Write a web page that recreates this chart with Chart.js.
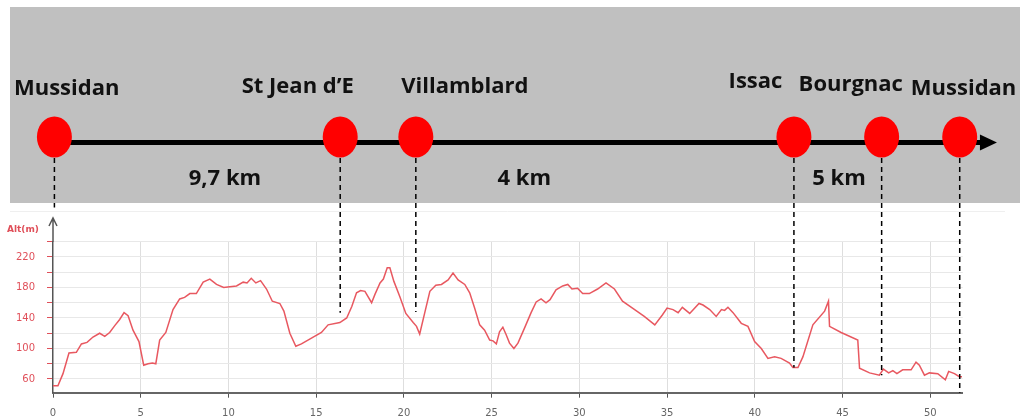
<!DOCTYPE html>
<html>
<head>
  <title>Profil Mussidan</title>
  <script src="https://cdn.jsdelivr.net/npm/chart.js"></script>
  <style>
    body { margin: 0; background: #fff; }
  </style>
</head>
<body>
  <canvas id="profil" width="1020" height="419"></canvas>

  <script>
    // distance (km) and altitude (m) along the route
    var km = [0, 0.28, 0.57, 0.91, 1.33, 1.62, 1.94, 2.28, 2.66, 2.95,
      3.23, 3.52, 3.8, 4.05, 4.28, 4.56, 4.9, 5.17, 5.42, 5.67,
      5.86, 6.08, 6.43, 6.84, 7.22, 7.5, 7.8, 8.17, 8.56, 8.94,
      9.32, 9.73, 10.08, 10.46, 10.84, 11.06, 11.3, 11.56, 11.83, 12.17,
      12.5, 12.93, 13.16, 13.5, 13.84, 14.16, 14.83, 15.3, 15.68, 16.35,
      16.74, 17.03, 17.3, 17.53, 17.78, 18.16, 18.35, 18.64, 18.83, 19.05,
      19.2, 19.43, 19.77, 20.11, 20.53, 20.72, 20.9, 21.19, 21.48, 21.82,
      22.14, 22.52, 22.8, 23.09, 23.47, 23.75, 24.03, 24.32, 24.6, 24.89,
      25.08, 25.27, 25.45, 25.64, 25.83, 26.02, 26.27, 26.5, 26.88, 27.25,
      27.54, 27.82, 28.1, 28.33, 28.67, 29.05, 29.34, 29.58, 29.9, 30.19,
      30.57, 31.04, 31.52, 32.0, 32.46, 33.03, 33.7, 34.3, 34.73, 35.0,
      35.34, 35.63, 35.87, 36.29, 36.82, 37.05, 37.43, 37.8, 38.1, 38.28,
      38.47, 38.76, 39.23, 39.61, 39.99, 40.37, 40.75, 41.13, 41.5, 41.98,
      42.17, 42.46, 42.74, 43.31, 43.98, 44.2, 44.26, 44.92, 45.87, 45.97,
      46.54, 47.1, 47.33, 47.63, 47.87, 48.1, 48.43, 48.91, 49.19, 49.38,
      49.67, 49.95, 50.43, 50.86, 51.05, 51.38, 51.66, 51.81];
    var alt = [51, 51, 67, 94, 95, 106, 108, 115, 120, 116,
      121, 130, 138, 147, 143, 124, 109, 78, 80, 81,
      80, 111, 121, 151, 165, 167, 172, 172, 187, 191,
      184, 180, 181, 182, 187, 186, 192, 186, 189, 178,
      162, 159, 149, 120, 103, 106, 115, 121, 131, 134,
      140, 155, 173, 176, 175, 160, 171, 186, 191, 206,
      206, 188, 168, 146, 134, 129, 119, 147, 175, 183,
      184, 190, 199, 190, 184, 173, 153, 131, 124, 111,
      110, 106, 122, 128, 118, 107, 100, 107, 127, 147,
      161, 165, 160, 164, 177, 182, 184, 178, 179, 172,
      172, 178, 186, 178, 162, 153, 142, 131, 144, 153,
      151, 147, 154, 146, 159, 157, 151, 142, 151, 150,
      154, 147, 133, 129, 109, 100, 87, 89, 87, 81,
      75, 75, 89, 131, 149, 162, 129, 121, 111, 74,
      68, 65, 73, 68, 71, 67, 72, 72, 82, 78,
      65, 68, 67, 59, 70, 67, 63, 63];

    var xTicks = [0, 5, 10, 15, 20, 25, 30, 35, 40, 45, 50];
    var yTicks = [60, 80, 100, 120, 140, 160, 180, 200, 220, 240];

    // villes sur le trajet (km) et où s'arrête la ligne pointillée (m)
    var villes = ['Mussidan', 'St Jean d\u2019E', 'Villamblard', 'Issac', 'Bourgnac', 'Mussidan'];
    var villesKm = [0.08, 16.37, 20.68, 42.23, 47.23, 51.68];
    var villesStop = [285, 147, 148, 75, 65, 42];
    // où poser le nom (km, centre du texte)
    var nomsKm = [0.78, 13.95, 23.47, 40.04, 45.47, 51.9];
    var nomsY = [95, 93, 93, 88, 91, 95];

    var etapes = ['9,7 km', '4 km', '5 km'];
    var etapesKm = [9.8, 26.86, 44.8];

    var ROUGE = '#e0505a';

    var bandeau = {
      id: 'bandeau',
      afterDraw: function(chart) {
        var c = chart.ctx, xs = chart.scales.x, ys = chart.scales.y;
        var area = chart.chartArea;
        c.save();

        // fond gris
        c.fillStyle = '#c0c0c0';
        c.fillRect(10, 7, 1010, 196);
        c.strokeStyle = '#efefef';
        c.lineWidth = 1;
        c.beginPath();
        c.moveTo(10, 211.5);
        c.lineTo(1005, 211.5);
        c.stroke();

        // flèche noire
        var yl = 142.5;
        var x0 = xs.getPixelForValue(villesKm[0]);
        var xTip = xs.getPixelForValue(53.8);
        c.strokeStyle = '#000';
        c.lineWidth = 5;
        c.beginPath();
        c.moveTo(x0, yl);
        c.lineTo(xTip - 14, yl);
        c.stroke();
        c.fillStyle = '#000';
        c.beginPath();
        c.moveTo(xTip, yl);
        c.lineTo(xTip - 17, yl - 8);
        c.lineTo(xTip - 17, yl + 8);
        c.closePath();
        c.fill();

        // pointillés vers le profil
        c.setLineDash([5, 4]);
        c.lineWidth = 1.5;
        villesKm.forEach(function(k, i) {
          var px = xs.getPixelForValue(k);
          c.beginPath();
          c.moveTo(px, 158);
          c.lineTo(px, ys.getPixelForValue(villesStop[i]));
          c.stroke();
        });
        c.setLineDash([]);

        // ronds rouges
        c.fillStyle = '#ff0000';
        villesKm.forEach(function(k) {
          c.beginPath();
          c.ellipse(xs.getPixelForValue(k), 137, 17.5, 20.5, 0, 0, Math.PI * 2);
          c.fill();
        });

        // textes
        c.fillStyle = '#111';
        c.font = 'bold 22px "Open Sans"';
        c.textAlign = 'center';
        c.textBaseline = 'alphabetic';
        villes.forEach(function(v, i) {
          c.fillText(v, xs.getPixelForValue(nomsKm[i]), nomsY[i]);
        });
        etapes.forEach(function(e, i) {
          c.fillText(e, xs.getPixelForValue(etapesKm[i]), 185);
        });

        // flèche de l'axe vertical
        c.strokeStyle = '#555';
        c.lineWidth = 1.5;
        c.beginPath();
        c.moveTo(area.left, area.top);
        c.lineTo(area.left, 218);
        c.moveTo(area.left - 4, 226);
        c.lineTo(area.left, 218);
        c.lineTo(area.left + 4, 226);
        c.stroke();

        c.fillStyle = ROUGE;
        c.font = 'bold 9px "DejaVu Sans"';
        c.textAlign = 'left';
        c.fillText('Alt(m)', 7, 232);

        c.restore();
      }
    };

    var points = km.map(function(k, i) { return { x: k, y: alt[i] }; });

    Chart.defaults.font.family = '"DejaVu Sans"';
    Chart.defaults.font.size = 10;

    new Chart(document.getElementById('profil').getContext('2d'), {
      type: 'line',
      data: {
        datasets: [{
          label: 'Altitude',
          data: points,
          borderColor: 'rgb(232,88,96)',
          borderWidth: 1.5,
          pointRadius: 0,
          tension: 0,
          fill: false
        }]
      },
      options: {
        responsive: false,
        animation: false,
        layout: { padding: { top: 241.75, right: 57.3, left: 0, bottom: 0 } },
        plugins: { legend: { display: false }, tooltip: { enabled: false } },
        scales: {
          x: {
            type: 'linear',
            min: 0,
            max: 51.85,
            afterBuildTicks: function(s) { s.ticks = xTicks.map(function(v) { return { value: v }; }); },
            afterFit: function(s) { s.height = 26.3; },
            border: { color: '#666', width: 2 },
            grid: {
              color: function(ctx) { return ctx.tick && ctx.tick.value === 0 ? 'rgba(0,0,0,0)' : '#dedede'; },
              tickColor: '#555',
              tickLength: 5
            },
            ticks: { color: '#666', padding: 10, maxRotation: 0 }
          },
          y: {
            min: 42,
            max: 240,
            afterBuildTicks: function(s) { s.ticks = yTicks.map(function(v) { return { value: v }; }); },
            afterFit: function(s) { s.width = 53; },
            border: { color: '#555', width: 1.5 },
            grid: { color: '#e8e8e8', tickColor: ROUGE, tickLength: 6 },
            ticks: {
              color: ROUGE,
              padding: 12,
              callback: function(v) { return v % 40 === 20 ? v : ''; }
            }
          }
        }
      },
      plugins: [bandeau]
    });
  </script>
</body>
</html>
